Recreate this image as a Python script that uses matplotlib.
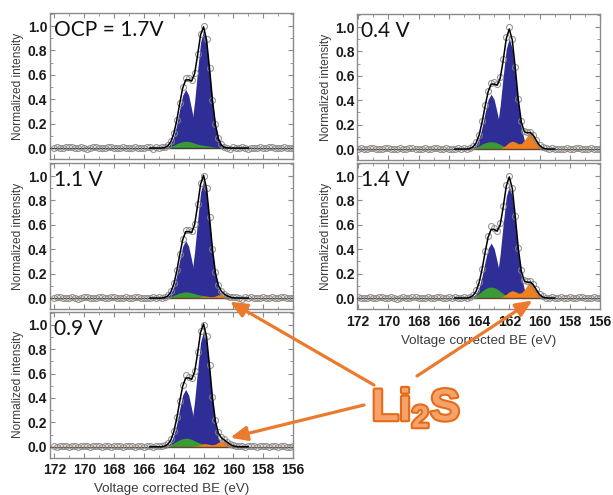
import matplotlib.pyplot as plt
import matplotlib.patheffects as pe
from matplotlib.patches import ConnectionPatch
from matplotlib.ticker import MultipleLocator, FormatStrFormatter
import numpy as np

plt.rcParams['font.family'] = 'Liberation Sans'
plt.rcParams['font.weight'] = 'bold'
plt.rcParams['mathtext.fontset'] = 'custom'
plt.rcParams['mathtext.bf'] = 'Liberation Sans:bold'
plt.rcParams['mathtext.rm'] = 'Liberation Sans'

# binding energy grids (eV): measured points and fitted components
be_full = np.linspace(172, 156, 81)
be_fit = np.linspace(165.6, 159.0, 34)

# --- OCP = 1.7 V ---
ocp_s2p32 = [0, 0, 0, 0, 0, 0, 0, 0, 0, 0,
             0.001, 0.006, 0.023, 0.073, 0.183, 0.379, 0.636, 0.866, 0.960,
             0.866, 0.636, 0.379, 0.183, 0.073, 0.023, 0.006, 0.001,
             0, 0, 0, 0, 0, 0, 0]
ocp_s2p12 = [0, 0, 0, 0,
             0.000, 0.003, 0.012, 0.036, 0.092, 0.190, 0.318, 0.433, 0.480,
             0.433, 0.318, 0.190, 0.092, 0.036, 0.012, 0.003, 0.000,
             0, 0, 0, 0, 0, 0, 0, 0, 0, 0, 0, 0, 0]
ocp_green = [0, 0, 0, 0, 0,
             0.002, 0.006, 0.013, 0.024, 0.035, 0.045, 0.052, 0.055, 0.054, 0.048,
             0.040, 0.032, 0.026, 0.022, 0.019, 0.015, 0.010, 0.006, 0.003, 0.001,
             0, 0, 0, 0, 0, 0, 0, 0, 0]
ocp_li2s = [0] * 34
ocp_meas = [0.004, 0.008, 0.002, -0.003, 0.006, 0.010, 0.005, -0.002, 0.003, 0.007,
            0.001, -0.004, 0.002, 0.006, 0.009, 0.004, 0.000, -0.003, 0.005, 0.008,
            0.003, -0.002, 0.001, 0.006, 0.004, -0.001, 0.003, 0.007, 0.002, -0.002,
            0.004, 0.006,
            0.005, -0.004, 0.008, 0.002, 0.006, 0.012, 0.025, 0.058, 0.125, 0.232,
            0.372, 0.498, 0.575, 0.572, 0.556, 0.615, 0.770, 0.935, 1.000, 0.895,
            0.660, 0.396, 0.198, 0.085, 0.030, 0.012, 0.003, -0.004, 0.006, 0.002,
            -0.003, 0.005, 0.000, -0.005,
            0.003, -0.002, 0.004, 0.007, 0.001, -0.003, 0.005, 0.008, 0.002, -0.001,
            0.004, 0.006, 0.000, -0.002, 0.003]

# --- 1.1 V ---
v11_s2p32 = [0, 0, 0, 0, 0, 0, 0, 0, 0, 0,
             0.001, 0.006, 0.023, 0.073, 0.183, 0.379, 0.636, 0.866, 0.960,
             0.866, 0.636, 0.379, 0.183, 0.073, 0.023, 0.006, 0.001,
             0, 0, 0, 0, 0, 0, 0]
v11_s2p12 = [0, 0, 0, 0,
             0.000, 0.003, 0.011, 0.036, 0.090, 0.186, 0.311, 0.424, 0.470,
             0.424, 0.311, 0.186, 0.090, 0.036, 0.011, 0.003, 0.000,
             0, 0, 0, 0, 0, 0, 0, 0, 0, 0, 0, 0, 0]
v11_green = [0, 0, 0, 0, 0,
             0.002, 0.005, 0.012, 0.022, 0.032, 0.041, 0.047, 0.050, 0.049, 0.043,
             0.036, 0.029, 0.023, 0.020, 0.017, 0.013, 0.009, 0.005, 0.003, 0.001,
             0, 0, 0, 0, 0, 0, 0, 0, 0]
v11_li2s = [0, 0, 0, 0, 0, 0, 0, 0, 0, 0, 0, 0, 0, 0, 0,
            0.001, 0.003, 0.008, 0.015, 0.013, 0.010, 0.010, 0.017, 0.026, 0.030,
            0.025, 0.016, 0.007, 0.002, 0.001,
            0, 0, 0, 0]
v11_meas = [-0.002, 0.005, 0.009, 0.003, -0.001, 0.004, 0.008, 0.002, -0.004, 0.003,
            0.006, 0.010, 0.004, -0.002, 0.001, 0.007, 0.005, -0.003, 0.002, 0.006,
            0.009, 0.003, -0.001, 0.004, 0.008, 0.001, -0.003, 0.005, 0.007, 0.002,
            0.000, 0.004,
            -0.003, 0.006, 0.002, 0.009, 0.004, 0.011, 0.024, 0.055, 0.120, 0.226,
            0.362, 0.486, 0.560, 0.556, 0.546, 0.610, 0.768, 0.942, 1.000, 0.905,
            0.668, 0.405, 0.214, 0.110, 0.060, 0.036, 0.020, 0.012, 0.005, 0.008,
            0.001, -0.004, 0.005, 0.002,
            0.006, 0.001, -0.003, 0.004, 0.008, 0.002, -0.002, 0.005, 0.003, -0.001,
            0.006, 0.009, 0.002, -0.003, 0.004]

# --- 0.9 V ---
v09_s2p32 = [0, 0, 0, 0, 0, 0, 0, 0, 0, 0,
             0.001, 0.006, 0.023, 0.072, 0.181, 0.375, 0.629, 0.857, 0.950,
             0.857, 0.629, 0.375, 0.181, 0.072, 0.023, 0.006, 0.001,
             0, 0, 0, 0, 0, 0, 0]
v09_s2p12 = [0, 0, 0, 0,
             0.000, 0.003, 0.011, 0.036, 0.090, 0.186, 0.311, 0.424, 0.470,
             0.424, 0.311, 0.186, 0.090, 0.036, 0.011, 0.003, 0.000,
             0, 0, 0, 0, 0, 0, 0, 0, 0, 0, 0, 0, 0]
v09_green = [0, 0, 0, 0, 0,
             0.003, 0.008, 0.017, 0.030, 0.045, 0.058, 0.066, 0.070, 0.068, 0.060,
             0.048, 0.037, 0.028, 0.022, 0.017, 0.012, 0.008, 0.004, 0.002, 0.001,
             0, 0, 0, 0, 0, 0, 0, 0, 0]
v09_li2s = [0, 0, 0, 0, 0, 0, 0, 0, 0, 0, 0, 0, 0, 0,
            0.001, 0.003, 0.009, 0.017, 0.024, 0.024, 0.019, 0.016, 0.021, 0.036,
            0.048, 0.048, 0.035, 0.018, 0.007, 0.002,
            0, 0, 0, 0]
v09_meas = [0.003, -0.002, 0.006, 0.009, 0.002, -0.003, 0.004, 0.007, 0.001, 0.005,
            0.010, 0.003, -0.002, 0.004, 0.008, 0.002, -0.004, 0.003, 0.006, 0.001,
            0.005, 0.009, 0.004, -0.001, 0.002, 0.007, 0.003, -0.003, 0.005, 0.008,
            0.001, 0.004,
            0.004, -0.002, 0.007, 0.003, 0.010, 0.014, 0.027, 0.062, 0.128, 0.240,
            0.378, 0.505, 0.585, 0.575, 0.560, 0.620, 0.775, 0.945, 1.000, 0.910,
            0.672, 0.410, 0.215, 0.118, 0.080, 0.060, 0.040, 0.024, 0.012, 0.006,
            0.002, 0.007, -0.003, 0.004,
            0.002, 0.006, -0.002, 0.003, 0.008, 0.004, -0.001, 0.005, 0.002, -0.003,
            0.004, 0.007, 0.001, -0.002, 0.005]

# --- 0.4 V ---
v04_s2p32 = [0, 0, 0, 0, 0, 0, 0, 0, 0, 0,
             0.001, 0.005, 0.022, 0.069, 0.174, 0.359, 0.602, 0.821, 0.910,
             0.821, 0.602, 0.359, 0.174, 0.069, 0.022, 0.005, 0.001,
             0, 0, 0, 0, 0, 0, 0]
v04_s2p12 = [0, 0, 0, 0,
             0.000, 0.003, 0.011, 0.034, 0.086, 0.178, 0.298, 0.406, 0.450,
             0.406, 0.298, 0.178, 0.086, 0.034, 0.011, 0.003, 0.000,
             0, 0, 0, 0, 0, 0, 0, 0, 0, 0, 0, 0, 0]
v04_green = [0, 0, 0, 0, 0,
             0.002, 0.006, 0.014, 0.026, 0.040, 0.051, 0.058, 0.060, 0.058, 0.050,
             0.038, 0.025, 0.015, 0.008, 0.004, 0.002,
             0, 0, 0, 0, 0, 0, 0, 0, 0, 0, 0, 0, 0]
v04_li2s = [0, 0, 0, 0, 0, 0, 0, 0, 0, 0, 0, 0, 0, 0,
            0.001, 0.005, 0.015, 0.034, 0.055, 0.065, 0.057, 0.043, 0.045, 0.072,
            0.111, 0.130, 0.110, 0.068, 0.030, 0.010, 0.002,
            0, 0, 0]
v04_meas = [0.002, 0.007, 0.004, -0.002, 0.005, 0.009, 0.003, -0.003, 0.001, 0.006,
            0.008, 0.002, -0.001, 0.004, 0.007, 0.003, -0.002, 0.005, 0.010, 0.004,
            0.000, 0.003, 0.006, -0.002, 0.002, 0.008, 0.005, -0.001, 0.003, 0.006,
            0.002, 0.004,
            0.003, 0.008, -0.002, 0.005, 0.002, 0.010, 0.022, 0.055, 0.118, 0.226,
            0.360, 0.478, 0.545, 0.548, 0.535, 0.590, 0.740, 0.915, 1.000, 0.905,
            0.672, 0.410, 0.228, 0.150, 0.142, 0.143, 0.118, 0.076, 0.036, 0.015,
            0.006, 0.002, 0.007, -0.002,
            0.004, -0.002, 0.003, 0.007, 0.002, -0.003, 0.005, 0.006, 0.001, -0.001,
            0.004, 0.008, 0.003, -0.002, 0.002]

# --- 1.4 V ---
v14_s2p32 = [0, 0, 0, 0, 0, 0, 0, 0, 0, 0,
             0.001, 0.006, 0.022, 0.070, 0.176, 0.363, 0.609, 0.830, 0.920,
             0.830, 0.609, 0.363, 0.176, 0.070, 0.022, 0.006, 0.001,
             0, 0, 0, 0, 0, 0, 0]
v14_s2p12 = [0, 0, 0, 0,
             0.000, 0.003, 0.011, 0.034, 0.086, 0.178, 0.298, 0.406, 0.450,
             0.406, 0.298, 0.178, 0.086, 0.034, 0.011, 0.003, 0.000,
             0, 0, 0, 0, 0, 0, 0, 0, 0, 0, 0, 0, 0]
v14_green = [0, 0, 0, 0, 0,
             0.003, 0.009, 0.020, 0.037, 0.057, 0.075, 0.087, 0.090, 0.086, 0.073,
             0.055, 0.036, 0.021, 0.011, 0.005, 0.002,
             0, 0, 0, 0, 0, 0, 0, 0, 0, 0, 0, 0, 0]
v14_li2s = [0, 0, 0, 0, 0, 0, 0, 0, 0, 0, 0, 0, 0, 0,
            0.001, 0.004, 0.014, 0.031, 0.051, 0.060, 0.053, 0.040, 0.043, 0.069,
            0.107, 0.125, 0.106, 0.066, 0.029, 0.009, 0.002,
            0, 0, 0]
v14_meas = [0.005, 0.001, -0.003, 0.004, 0.008, 0.003, -0.002, 0.006, 0.009, 0.002,
            -0.001, 0.005, 0.003, -0.004, 0.002, 0.007, 0.004, 0.000, 0.006, 0.010,
            0.003, -0.002, 0.004, 0.007, 0.001, -0.003, 0.005, 0.008, 0.002, 0.000,
            0.006, 0.003,
            0.006, -0.003, 0.004, 0.009, 0.002, 0.012, 0.028, 0.062, 0.130, 0.242,
            0.385, 0.510, 0.590, 0.575, 0.552, 0.612, 0.752, 0.925, 1.000, 0.905,
            0.675, 0.410, 0.226, 0.148, 0.138, 0.140, 0.115, 0.072, 0.034, 0.014,
            0.004, -0.002, 0.006, 0.003,
            0.002, 0.006, -0.002, 0.004, 0.007, 0.001, -0.003, 0.005, 0.008, 0.003,
            -0.001, 0.004, 0.006, 0.000, 0.003]

BLUE = '#2e2e96'
GREEN = '#3a9a33'
ORANGE = '#f0801e'
ARROW = '#ec7a2c'
W, H = 613, 495

fig = plt.figure(figsize=(W / 100, H / 100), dpi=100)


def px_axes(x0, y0, x1, y1):
    # rectangle given in picture pixels (top-left origin)
    return fig.add_axes([x0 / W, 1 - y1 / H, (x1 - x0) / W, (y1 - y0) / H])


def draw_panel(ax, label, s2p32, s2p12, green, li2s, meas, xleft, bottom):
    s2p32, s2p12 = np.array(s2p32), np.array(s2p12)
    green, li2s = np.array(green), np.array(li2s)
    ax.fill_between(be_fit, 0, s2p32, color=BLUE, lw=0, zorder=1)
    ax.fill_between(be_fit, 0, s2p12, color=BLUE, lw=0, zorder=1)
    ax.fill_between(be_fit, 0, green, color=GREEN, lw=0, zorder=2)
    if li2s.any():
        ax.fill_between(be_fit, 0, li2s, color=ORANGE, lw=0, zorder=2.5)
        base = '#6a4630'
    else:
        base = '#3a3a3a'
    ax.axhline(0, color=base, lw=1.0, zorder=2.6)
    ax.plot(be_full, meas, 'o', ms=4.3, mfc='none', mec='#858585', mew=0.8,
            alpha=0.85, zorder=3)
    total = s2p32 + s2p12 + green + li2s
    ax.plot(be_fit, total, color='black', lw=1.1, zorder=4)

    ax.set_xlim(xleft, 156)
    ax.set_ylim(-0.09, 1.107)
    ax.xaxis.set_major_locator(MultipleLocator(2))
    ax.xaxis.set_minor_locator(MultipleLocator(1))
    ax.yaxis.set_major_locator(MultipleLocator(0.2))
    ax.yaxis.set_minor_locator(MultipleLocator(0.1))
    ax.yaxis.set_major_formatter(FormatStrFormatter('%.1f'))
    ax.tick_params(which='both', direction='in', top=True, right=True,
                   color='#8a8a8a', labelcolor='#1a1a1a', labelsize=10)
    ax.tick_params(which='major', length=3.5, width=0.8)
    ax.tick_params(which='minor', length=2, width=0.6)
    ax.tick_params(axis='x', pad=4)
    ax.tick_params(axis='y', pad=2)
    for sp in ax.spines.values():
        sp.set_color('#8a8a8a')
        sp.set_linewidth(1.0)
    ax.set_ylabel('Normalized intensity', fontsize=8.6, fontweight='normal',
                  color='#3c3c3c')
    ax.yaxis.set_label_coords(-0.106, 0.5)
    if bottom:
        ax.set_xlabel('Voltage corrected BE (eV)', fontsize=9.6,
                      fontweight='normal', color='#3c3c3c')
        ax.xaxis.set_label_coords(0.5, -0.175)
    else:
        ax.tick_params(axis='x', labelbottom=False)
    ax.text(0.016, 0.952, label, transform=ax.transAxes, ha='left', va='top',
            fontsize=15, fontweight='normal', family='Lato', color='#111111',
            zorder=5)


ax_ocp = px_axes(50, 13, 293, 159)
ax_11 = px_axes(50, 163, 293, 309)
ax_09 = px_axes(50, 311.7, 293, 457.7)
ax_04 = px_axes(357.3, 14, 600, 160)
ax_14 = px_axes(357.3, 163, 600, 309)

draw_panel(ax_ocp, 'OCP = 1.7V', ocp_s2p32, ocp_s2p12, ocp_green, ocp_li2s,
           ocp_meas, 172.3, False)
draw_panel(ax_11, '1.1 V', v11_s2p32, v11_s2p12, v11_green, v11_li2s,
           v11_meas, 172.3, False)
draw_panel(ax_09, '0.9 V', v09_s2p32, v09_s2p12, v09_green, v09_li2s,
           v09_meas, 172.3, True)
draw_panel(ax_04, '0.4 V', v04_s2p32, v04_s2p12, v04_green, v04_li2s,
           v04_meas, 172.05, False)
draw_panel(ax_14, '1.4 V', v14_s2p32, v14_s2p12, v14_green, v14_li2s,
           v14_meas, 172.05, True)

# Li2S callout with arrows to the Li2S component
fig.text(416 / W, 1 - 408 / H, r'$\mathbf{Li_2S}$', fontsize=32,
         ha='center', va='center', color='#f6a36a',
         path_effects=[pe.Stroke(linewidth=3.0, foreground='#e66a18'), pe.Normal()])

arrow_targets = [
    ((374, 385), ax_11, (160.23, -0.03)),
    ((364, 405), ax_09, (160.2, 0.074)),
    ((417, 376), ax_14, (160.47, -0.02)),
]
for (tx, ty), tax, tip in arrow_targets:
    con = ConnectionPatch(xyA=(tx / W, 1 - ty / H), coordsA='figure fraction',
                          xyB=tip, coordsB=tax.transData,
                          arrowstyle='-|>,head_length=0.5,head_width=0.22',
                          mutation_scale=20, lw=2.3, color=ARROW,
                          shrinkA=0, shrinkB=0)
    con.set_zorder(10)
    fig.add_artist(con)

fig.savefig('out.png', dpi=100)
